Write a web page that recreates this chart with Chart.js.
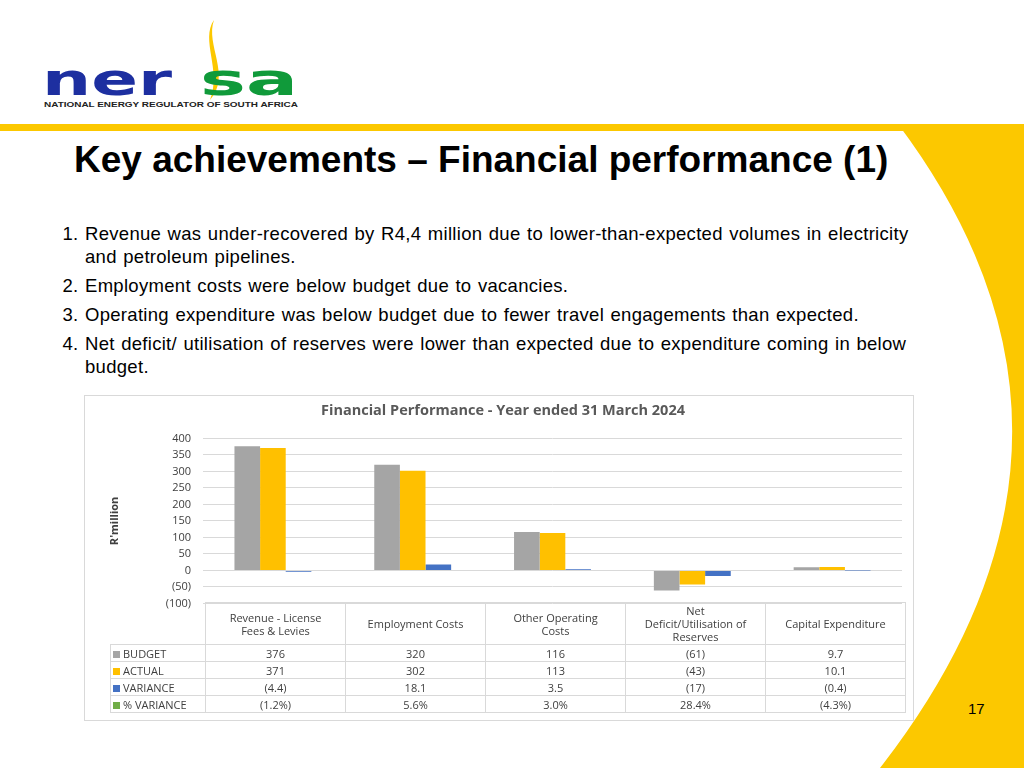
<!DOCTYPE html>
<html>
<head>
<meta charset="utf-8">
<script src="https://cdn.jsdelivr.net/npm/chart.js@4"></script>
<style>
  body { margin: 0; width: 1024px; height: 768px; position: relative; background: #fff; font-family: "Liberation Sans", Arial, sans-serif; overflow: hidden; }
  #deco { position: absolute; left: 0; top: 0; }
  #title { position: absolute; left: 74px; top: 139px; font-size: 37px; font-weight: bold; color: #000; }
  #points { position: absolute; left: 54px; top: 222px; width: 855px; font-size: 18.5px; letter-spacing: 0.3px; word-spacing: 1px; color: #000; line-height: 23px; margin: 0; padding-left: 31px; }
  #points li { margin-bottom: 6px; }
  #chartBox { position: absolute; left: 84px; top: 395px; width: 830px; height: 326px; border: 1px solid #d9d9d9; box-sizing: border-box; }
  #chartWrap { position: absolute; left: 84px; top: 395px; width: 830px; height: 227px; }
  #tbl { position: absolute; left: 110px; top: 602px; border-collapse: collapse; font-family: "Open Sans", sans-serif; font-size: 11px; color: #404040; }
  #tbl td { border: 1px solid #d9d9d9; text-align: center; padding: 0; height: 16px; }
  #tbl tr.head td { height: 41px; line-height: 13px; }
  #tbl td.lab { text-align: left; width: 92px; padding-left: 2px; }
  #tbl td.c { width: 139px; }
  .key { display: inline-block; width: 7px; height: 7px; margin-right: 3px; }
  #page { position: absolute; left: 968px; top: 700px; font-size: 15px; }
</style>
</head>
<body>
<svg id="deco" width="1024" height="768">
  <rect x="0" y="124" width="1024" height="7" fill="#fcc800"/>
  <path d="M 898 124 L 1024 124 L 1024 768 L 880 768 Q 1135 440 898 124 Z" fill="#fcc800"/>
  <path d="M 214 20 C 200 40 222 70 210 100 C 232 75 205 45 214 20 Z" fill="#fcc800"/>
  <text x="42" y="95" font-family="DejaVu Sans" font-weight="bold" font-size="44" fill="#1d2fa0" textLength="130" lengthAdjust="spacingAndGlyphs">ner</text>
  <text x="200" y="95" font-family="DejaVu Sans" font-weight="bold" font-size="44" fill="#109a3a" textLength="98" lengthAdjust="spacingAndGlyphs">sa</text>
  <text x="44" y="107" font-family="Liberation Sans" font-weight="bold" font-size="8" fill="#222" textLength="254" lengthAdjust="spacingAndGlyphs">NATIONAL ENERGY REGULATOR OF SOUTH AFRICA</text>
</svg>
<div id="title">Key achievements – Financial performance (1)</div>
<ol id="points">
  <li>Revenue was under-recovered by R4,4 million due to lower-than-expected volumes in electricity and petroleum pipelines.</li>
  <li>Employment costs were below budget due to vacancies.</li>
  <li>Operating expenditure was below budget due to fewer travel engagements than expected.</li>
  <li>Net deficit/ utilisation of reserves were lower than expected due to expenditure coming in below budget.</li>
</ol>
<div id="chartBox"></div>
<div id="chartWrap"><canvas id="c"></canvas></div>
<table id="tbl"></table>
<div id="page">17</div>
<script>
var categories = [['Revenue - License', 'Fees & Levies'], ['Employment Costs'], ['Other Operating', 'Costs'], ['Net', 'Deficit/Utilisation of', 'Reserves'], ['Capital Expenditure']];
var budget = [376, 320, 116, -61, 9.7];
var actual = [371, 302, 113, -43, 10.1];
var variance = [-4.4, 18.1, 3.5, -17, -0.4];
var budgetText = ['376', '320', '116', '(61)', '9.7'];
var actualText = ['371', '302', '113', '(43)', '10.1'];
var varianceText = ['(4.4)', '18.1', '3.5', '(17)', '(0.4)'];
var pctText = ['(1.2%)', '5.6%', '3.0%', '28.4%', '(4.3%)'];

var colors = { budget: '#a5a5a5', actual: '#ffc000', variance: '#4472c4', pct: '#70ad47' };

// table under the chart
var tbl = document.getElementById('tbl');
var html = '<tr class="head"><td class="lab" style="border:none"></td>';
categories.forEach(function (c) { html += '<td class="c">' + c.join('<br>') + '</td>'; });
html += '</tr>';
function row(name, color, vals) {
    var s = '<tr><td class="lab"><span class="key" style="background:' + color + '"></span>' + name + '</td>';
    vals.forEach(function (v) { s += '<td class="c">' + v + '</td>'; });
    return s + '</tr>';
}
html += row('BUDGET', colors.budget, budgetText);
html += row('ACTUAL', colors.actual, actualText);
html += row('VARIANCE', colors.variance, varianceText);
html += row('% VARIANCE', colors.pct, pctText);
tbl.innerHTML = html;

new Chart(document.getElementById('c'), {
    type: 'bar',
    data: {
        labels: categories.map(function (c) { return c.join(' '); }),
        datasets: [
            { label: 'BUDGET', data: budget, backgroundColor: colors.budget },
            { label: 'ACTUAL', data: actual, backgroundColor: colors.actual },
            { label: 'VARIANCE', data: variance, backgroundColor: colors.variance }
        ]
    },
    options: {
        responsive: true,
        maintainAspectRatio: false,
        animation: false,
        layout: { padding: { left: 20, right: 12, bottom: 0 } },
        datasets: { bar: { categoryPercentage: 0.55, barPercentage: 1 } },
        plugins: {
            legend: { display: false },
            tooltip: { enabled: false },
            title: {
                display: true,
                text: 'Financial Performance - Year ended 31 March 2024',
                color: '#595959',
                font: { family: 'Open Sans', size: 14.5, weight: 'bold' },
                padding: { top: 7, bottom: 19 }
            }
        },
        scales: {
            x: { display: false },
            y: {
                min: -100, max: 400,
                afterFit: function (axis) { axis.width = 99; },
                border: { display: false },
                grid: { color: '#d9d9d9', drawTicks: false },
                ticks: {
                    stepSize: 50, padding: 12, color: '#404040',
                    font: { family: 'Open Sans', size: 11 },
                    callback: function (v) { return v < 0 ? '(' + (-v) + ')' : v; }
                },
                title: { display: true, text: "R'million", color: '#404040', font: { family: 'Open Sans', size: 11, weight: 'bold' }, padding: { bottom: 8 } }
            }
        }
    }
});
</script>
</body>
</html>
